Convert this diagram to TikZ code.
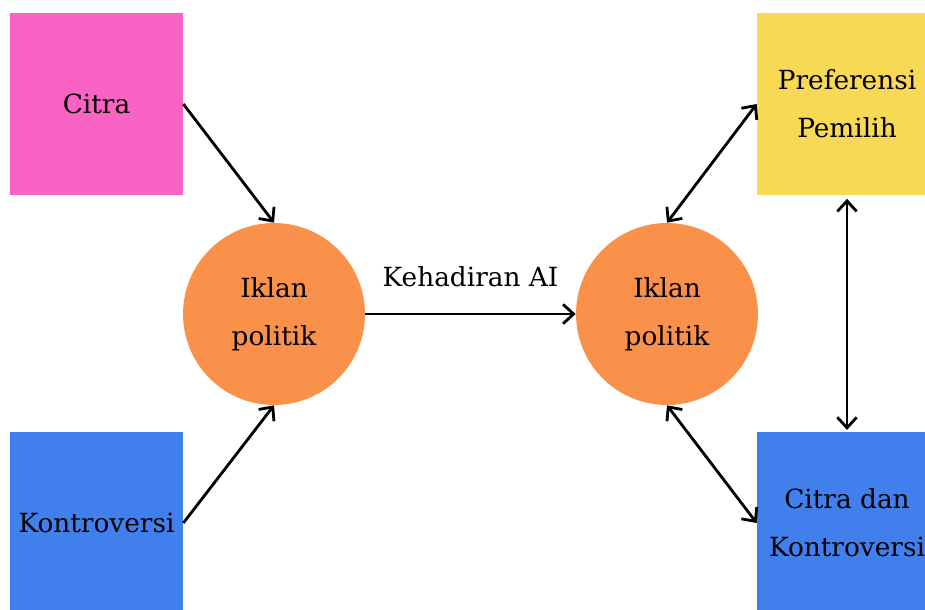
\documentclass[tikz,border=0pt]{standalone}
\usepackage{fontspec}
\setmainfont{DejaVu Serif}
\usetikzlibrary{positioning,arrows.meta}
\definecolor{citrapink}{RGB}{250,98,196}
\definecolor{kontroblue}{RGB}{65,128,236}
\definecolor{pilihyellow}{RGB}{248,217,86}
\definecolor{iklanorange}{RGB}{250,145,75}
\tikzset{
  font=\fontsize{15}{27.5}\selectfont
}

\begin{document}
\begin{tikzpicture}[x=0.02cm,y=-0.02cm,
  box/.style={rectangle,minimum height=3.64cm,align=center,inner sep=0pt},
  iklan/.style={circle,fill=iklanorange,minimum size=3.64cm,align=center,inner sep=0pt},
  link/.style={line width=1.6pt,-{Straight Barb[length=6pt,width=11pt]}},
  both/.style={line width=1.6pt,{Straight Barb[length=6pt,width=11pt]}-{Straight Barb[length=6pt,width=11pt]}}]
\useasboundingbox (0,0) rectangle (925,609);
\clip (0,0) rectangle (925,609);
\node[box,fill=citrapink,minimum width=3.46cm] (citra) at (96.5,104) {Citra};
\node[box,fill=kontroblue,minimum width=3.46cm] (kontro) at (96.5,523) {Kontroversi};
\node[iklan] (iklanL) at (274,314) {Iklan\\politik};
\node[iklan] (iklanR) at (667,314) {Iklan\\politik};
\node[box,fill=pilihyellow,minimum width=3.6cm] (pilih) at (847,104) {Preferensi\\Pemilih};
\node[box,fill=kontroblue,minimum width=3.6cm] (citrakon) at (847,523) {Citra dan\\Kontroversi};
\path[link] (citra.east) edge (iklanL.north)
            (kontro.east) edge (iklanL.south)
            (iklanL) edge node[above=0.4cm] {Kehadiran AI} (iklanR);
\path[both] (iklanR.north) edge (pilih.west)
            (iklanR.south) edge (citrakon.west)
            ([yshift=-2pt]pilih.south) edge ([yshift=1pt]citrakon.north);
\end{tikzpicture}
\end{document}
